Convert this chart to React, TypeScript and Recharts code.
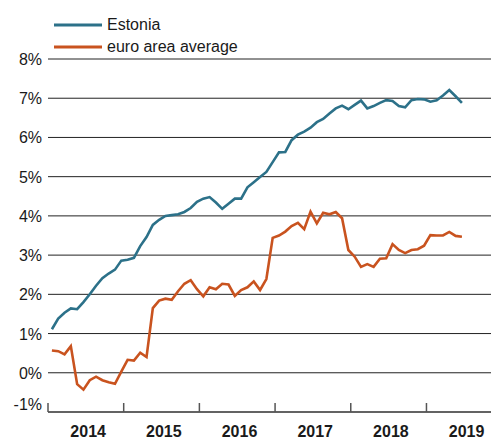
import React from "react";
import { LineChart, Line, XAxis, YAxis, CartesianGrid } from "recharts";

// Monthly observations, Jan 2014 – Jun 2019 (%)
const estonia = [
  1.11, 1.38, 1.53, 1.64, 1.62, 1.8, 2.0, 2.22, 2.41, 2.53, 2.63, 2.86,
  2.88, 2.93, 3.23, 3.46, 3.77, 3.9, 4.0, 4.02, 4.04, 4.1, 4.2, 4.36,
  4.44, 4.48, 4.34, 4.18, 4.31, 4.44, 4.44, 4.73, 4.86, 4.99, 5.12, 5.37,
  5.62, 5.63, 5.93, 6.07, 6.15, 6.25, 6.39, 6.47, 6.61, 6.74, 6.81, 6.72,
  6.83, 6.94, 6.74, 6.8, 6.88, 6.95, 6.93, 6.8, 6.77, 6.95, 6.98, 6.97,
  6.91, 6.95, 7.07, 7.21, 7.05, 6.88,
];
const euroArea = [
  0.57, 0.55, 0.47, 0.68, -0.29, -0.43, -0.19, -0.1, -0.19, -0.24, -0.28, 0.03,
  0.33, 0.31, 0.51, 0.4, 1.65, 1.84, 1.89, 1.86, 2.08, 2.27, 2.36, 2.13,
  1.95, 2.18, 2.13, 2.27, 2.25, 1.96, 2.11, 2.18, 2.33, 2.11, 2.39, 3.44,
  3.5, 3.6, 3.74, 3.82, 3.66, 4.11, 3.81, 4.08, 4.04, 4.1, 3.94, 3.13,
  2.96, 2.7, 2.77, 2.7, 2.91, 2.92, 3.28, 3.13, 3.05, 3.13, 3.15, 3.24,
  3.51, 3.5, 3.5, 3.59, 3.49, 3.47,
];
const years = ["2014", "2015", "2016", "2017", "2018", "2019"];
const yTicks = [-1, 0, 1, 2, 3, 4, 5, 6, 7, 8];
const seriesNames = ["Estonia", "euro area average"];

const COLORS = ["#2c7189", "#c9531f"];
const FONT = "'Liberation Sans', Arial, Helvetica, sans-serif";
const MONTH_OFFSET = 0.62;

const data = estonia.map((v, i) => ({
  t: i + MONTH_OFFSET,
  estonia: v,
  euro: euroArea[i],
}));

const xTicks: number[] = [];
years.forEach((_, k) => {
  xTicks.push(k * 12);
  xTicks.push(k * 12 + 6);
});

const XTick = (props: any) => {
  const { x, y, payload } = props;
  const v = payload.value as number;
  if (v % 12 === 0) {
    return <line x1={x} x2={x} y1={y} y2={y - 9} stroke="#555" strokeWidth={1.5} />;
  }
  const label = years[Math.floor(v / 12)];
  return (
    <text
      x={x + 2.3}
      y={y + 25}
      textAnchor="middle"
      fontFamily={FONT}
      fontSize={16}
      fontWeight="bold"
      fill="#1a1a1a"
    >
      {label}
    </text>
  );
};

const YTick = (props: any) => {
  const { x, y, payload } = props;
  const v = payload.value as number;
  const dy = v === -1 ? -2 : 6;
  return (
    <text
      x={x}
      y={y + dy}
      textAnchor="end"
      fontFamily={FONT}
      fontSize={16}
      fill="#1a1a1a"
    >
      {`${v}%`}
    </text>
  );
};

const LegendBox = () => (
  <div
    style={{
      position: "absolute",
      left: 46,
      top: 6,
      fontFamily: FONT,
      fontSize: 16,
      color: "#1a1a1a",
      lineHeight: "22px",
    }}
  >
    {seriesNames.map((n, i) => (
      <div key={n} style={{ display: "flex", alignItems: "center", height: 22 }}>
        <svg width={50} height={22} style={{ display: "block" }}>
          <line x1={0} x2={48} y1={11} y2={11} stroke={COLORS[i]} strokeWidth={3} />
        </svg>
        <span style={{ marginLeft: 3 }}>{n}</span>
      </div>
    ))}
  </div>
);

export default function App() {
  return (
    <div style={{ position: "relative", width: 491, height: 431 }}>
      <LineChart
        width={491}
        height={431}
        data={data}
        margin={{ top: 51, right: 0, bottom: 0, left: 0 }}
      >
        <CartesianGrid horizontal vertical={false} stroke="#222" strokeWidth={1} />
        <XAxis
          dataKey="t"
          type="number"
          domain={[0, 71.5]}
          ticks={xTicks}
          interval={0}
          allowDataOverflow
          height={27}
          tickSize={0}
          tickMargin={0}
          tickLine={false}
          axisLine={{ stroke: "#555", strokeWidth: 1.5 }}
          tick={<XTick />}
        />
        <YAxis
          type="number"
          domain={[-1, 8]}
          ticks={yTicks}
          interval={0}
          width={40}
          axisLine={false}
          tickLine={false}
          tickSize={0}
          tickMargin={6}
          tick={<YTick />}
        />
        <Line
          type="linear"
          dataKey="estonia"
          stroke={COLORS[0]}
          strokeWidth={2.6}
          dot={false}
          isAnimationActive={false}
        />
        <Line
          type="linear"
          dataKey="euro"
          stroke={COLORS[1]}
          strokeWidth={2.6}
          dot={false}
          isAnimationActive={false}
        />
      </LineChart>
      <LegendBox />
    </div>
  );
}
